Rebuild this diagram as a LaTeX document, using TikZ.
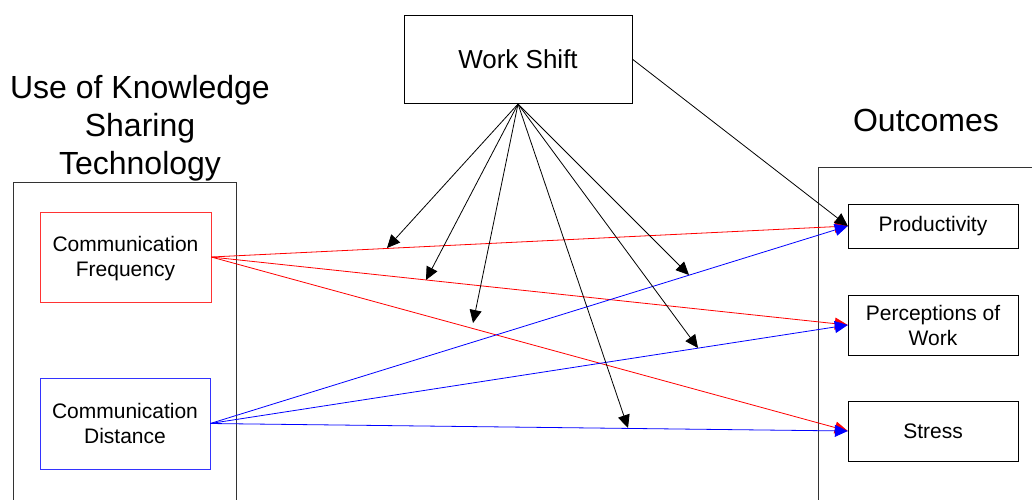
\documentclass[tikz,border=0pt]{standalone}
\usepackage{fontspec}
\setmainfont{Liberation Sans}
\usetikzlibrary{arrows.meta}
\begin{document}
\begin{tikzpicture}[x=1pt,y=-1pt,
  box/.style={draw, rectangle, inner sep=0pt, align=center},
  small/.style={font=\fontsize{21}{25}\selectfont},
  big/.style={font=\fontsize{32}{38}\selectfont, align=center, inner sep=0pt},
  arr/.style={line width=0.8pt, -{Triangle[length=13pt,width=12pt]}},
  redl/.style={arr, red},
  bluel/.style={arr, blue},
  blackl/.style={arr, black}]
\useasboundingbox (0,0) rectangle (1032,499);
% outer frames
\draw[line width=0.8pt, black!80] (13,505) -- (13,182) -- (236,182) -- (236,505);
\draw[line width=0.8pt, black!80] (818,505) -- (818,167) -- (1040,167);
% titles
\node[big] (title) at (140,128) {Use of Knowledge\\Sharing\\Technology};
\node[big] (outc) at (926,120) {Outcomes};
% boxes
\node[box, minimum width=228pt, minimum height=88pt, font=\fontsize{26}{30}\selectfont] (ws) at (518,59) {Work Shift};
\node[box, small, draw=red!80, minimum width=171pt, minimum height=90pt, text depth=1pt] (freq) at (125.5,257) {\raisebox{0pt}{}Communication\\Frequency};
\node[box, small, draw=blue!80, minimum width=170pt, minimum height=91pt] (dist) at (125,423.5) {Communication\\Distance};
\node[box, small, minimum width=170pt, minimum height=44pt] (prod) at (933,226) {Productivity};
\node[box, small, minimum width=170pt, minimum height=60pt] (perc) at (933,325) {Perceptions of\\Work};
\node[box, small, minimum width=170pt, minimum height=60pt] (stress) at (933,431) {Stress};
% red connectors
\draw[redl] (freq.east) -- (prod.west);
\draw[redl] (freq.east) -- (perc.west);
\draw[redl] (freq.east) -- (stress.west);
% blue connectors
\draw[bluel] (dist.east) -- (prod.west);
\draw[bluel] (dist.east) -- (perc.west);
\draw[bluel] (dist.east) -- (stress.west);
% moderator arrows
\coordinate (m1) at (387,248);
\coordinate (m2) at (426,280);
\coordinate (m3) at (473,323);
\coordinate (m4) at (628,428);
\coordinate (m5) at (689,275);
\coordinate (m6) at (698,348);
\coordinate (wsb) at (518,104);
\foreach \t in {m1,m2,m3,m4,m5,m6} \draw[blackl] (wsb) -- (\t);
\draw[blackl] (ws.east) -- (prod.west);
\end{tikzpicture}
\end{document}
